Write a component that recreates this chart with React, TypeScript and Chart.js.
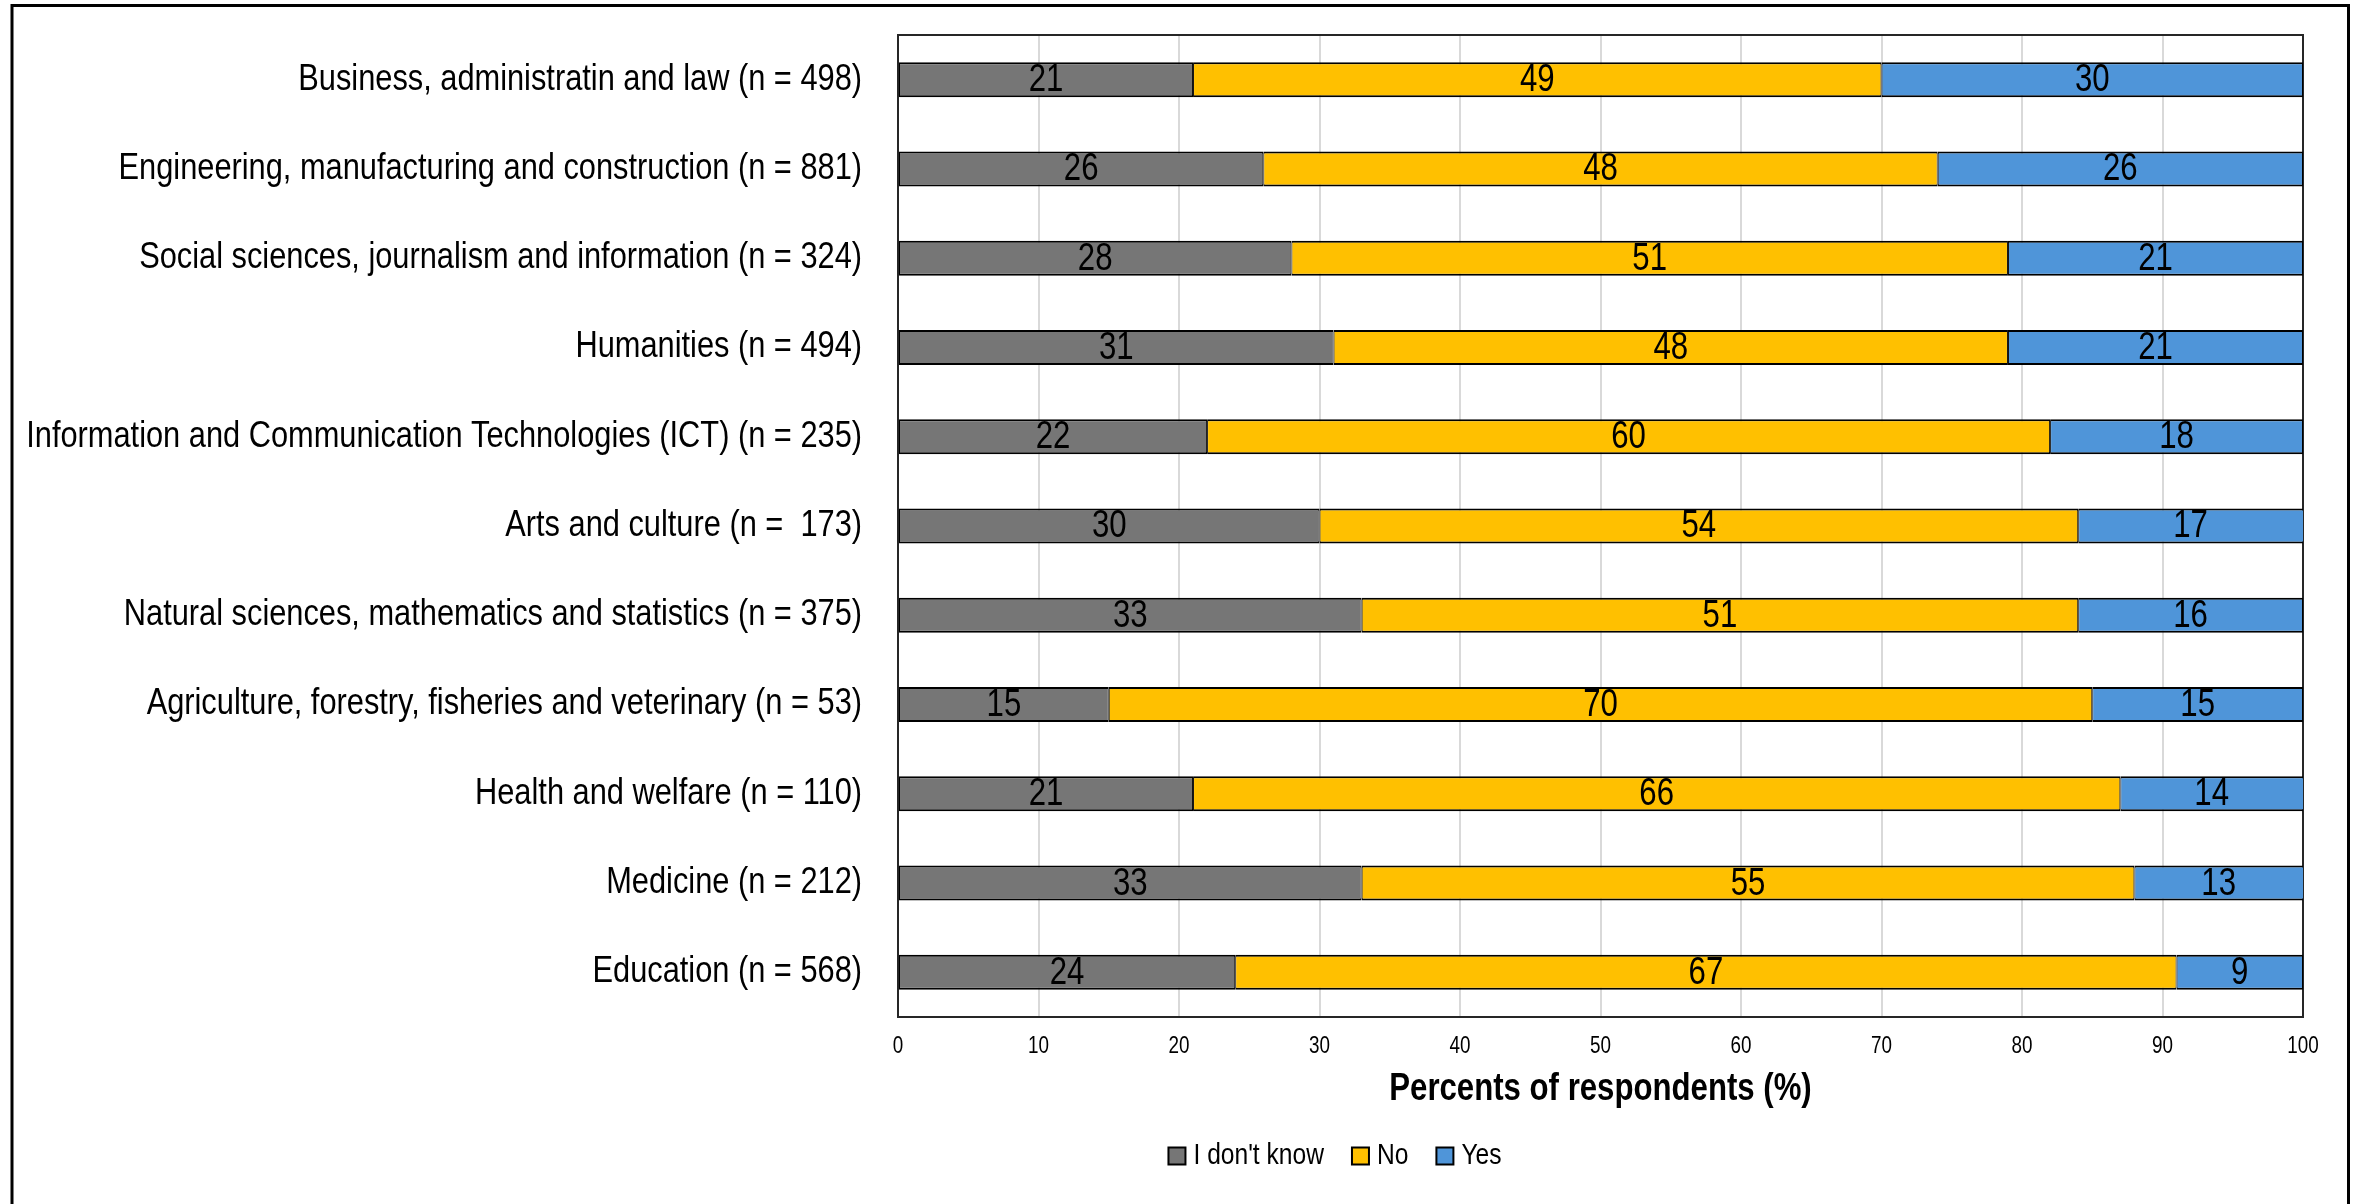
import React, { useEffect, useRef } from "react";
import { Chart, registerables } from "chart.js";

Chart.register(...registerables);

// Survey results by field of study
const categories = [
  "Business, administratin and law (n = 498)",
  "Engineering, manufacturing and construction (n = 881)",
  "Social sciences, journalism and information (n = 324)",
  "Humanities (n = 494)",
  "Information and Communication Technologies (ICT) (n = 235)",
  "Arts and culture (n =  173)",
  "Natural sciences, mathematics and statistics (n = 375)",
  "Agriculture, forestry, fisheries and veterinary (n = 53)",
  "Health and welfare (n = 110)",
  "Medicine (n = 212)",
  "Education (n = 568)",
];
const dontKnow = [21, 26, 28, 31, 22, 30, 33, 15, 21, 33, 24];
const no = [49, 48, 51, 48, 60, 54, 51, 70, 66, 55, 67];
const yes = [30, 26, 21, 21, 18, 17, 16, 15, 14, 13, 9];
const seriesNames = ["I don't know", "No", "Yes"];
const seriesValues = [dontKnow, no, yes];
const seriesColors = ["#767676", "#FFC000", "#4F95D9"];
const axisMin = 0;
const axisMax = 100;
const axisStep = 10;
const axisTitle = "Percents of respondents (%)";

const W = 2363;
const H = 1204;
const FONT = '"Liberation Sans", Arial, sans-serif';
// Horizontal squeeze that gives the narrow sans look
const NARROW = 0.82;

function narrowText(
  ctx: CanvasRenderingContext2D,
  text: string,
  x: number,
  y: number,
  font: string,
  align: CanvasTextAlign,
  squeeze: number = NARROW
) {
  ctx.font = font;
  ctx.textAlign = align;
  ctx.textBaseline = "middle";
  const w = ctx.measureText(text).width;
  ctx.fillText(text, x, y, w * squeeze);
}

// Dark frame around the plotting area, drawn under the bars
const framePlugin = {
  id: "plotFrame",
  beforeDatasetsDraw(chart: any) {
    const { ctx, chartArea: a } = chart;
    ctx.save();
    ctx.strokeStyle = "#262626";
    ctx.lineWidth = 2;
    ctx.strokeRect(a.left, a.top, a.right - a.left, a.bottom - a.top);
    ctx.restore();
  },
};

// Axis labels and axis title in a condensed face
const axisTextPlugin = {
  id: "axisText",
  afterDraw(chart: any) {
    const { ctx, chartArea: a } = chart;
    const xs = chart.scales.x;
    const ys = chart.scales.y;
    ctx.save();
    ctx.fillStyle = "#000";
    ys.ticks.forEach((_t: any, i: number) => {
      narrowText(ctx, String(chart.data.labels[i]), ys.right - 36, ys.getPixelForTick(i), `36px ${FONT}`, "right", 0.855);
    });
    xs.ticks.forEach((t: any, i: number) => {
      narrowText(ctx, String(t.value), xs.getPixelForTick(i), a.bottom + 30, `23px ${FONT}`, "center");
    });
    narrowText(ctx, axisTitle, (a.left + a.right) / 2, a.bottom + 73, `bold 38px ${FONT}`, "center");
    ctx.restore();
  },
};

// Value labels centred in each visible bar segment
const valueLabelPlugin = {
  id: "valueLabels",
  afterDatasetsDraw(chart: any) {
    const { ctx, chartArea: a } = chart;
    ctx.save();
    ctx.fillStyle = "#000";
    chart.data.datasets.forEach((ds: any, i: number) => {
      const meta = chart.getDatasetMeta(i);
      meta.data.forEach((bar: any, j: number) => {
        const { x, base, y } = bar.getProps(["x", "base", "y"], true);
        const l = Math.max(Math.min(x, base), a.left);
        const r = Math.min(Math.max(x, base), a.right);
        narrowText(ctx, String(ds.data[j]), (l + r) / 2, y + 1, `38px ${FONT}`, "center");
      });
    });
    ctx.restore();
  },
};

// Legend row below the axis title
const LEGEND_CX = 1335;
const LEGEND_CY = 1156;
const legendPlugin = {
  id: "bottomLegend",
  afterDraw(chart: any) {
    const { ctx } = chart;
    ctx.save();
    const font = `30px ${FONT}`;
    ctx.font = font;
    const box = 17;
    const gap = 8;
    const spacing = 28;
    const items = chart.data.datasets.map((ds: any) => ({
      label: ds.label,
      color: ds.backgroundColor,
      w: ctx.measureText(ds.label).width * NARROW,
    }));
    const total =
      items.reduce((s: number, it: any) => s + box + gap + it.w, 0) + spacing * (items.length - 1);
    let x = LEGEND_CX - total / 2;
    items.forEach((it: any) => {
      ctx.fillStyle = it.color;
      ctx.fillRect(x, LEGEND_CY - box / 2, box, box);
      ctx.strokeStyle = "#000";
      ctx.lineWidth = 2;
      ctx.strokeRect(x, LEGEND_CY - box / 2, box, box);
      ctx.fillStyle = "#000";
      narrowText(ctx, it.label, x + box + gap, LEGEND_CY, font, "left");
      x += box + gap + it.w + spacing;
    });
    ctx.restore();
  },
};

// Outer border of the figure
const outerBorderPlugin = {
  id: "outerBorder",
  afterDraw(chart: any) {
    const { ctx } = chart;
    ctx.save();
    ctx.strokeStyle = "#000";
    ctx.lineWidth = 3;
    ctx.strokeRect(12, 5.5, 2336.5, H + 100);
    ctx.restore();
  },
};

export default function App() {
  const canvasRef = useRef<HTMLCanvasElement | null>(null);

  useEffect(() => {
    document.body.style.margin = "0";
    const canvas = canvasRef.current;
    if (!canvas) return;
    const chart = new Chart(canvas, {
      type: "bar",
      data: {
        labels: categories,
        datasets: seriesNames.map((name, i) => ({
          label: name,
          data: seriesValues[i],
          backgroundColor: seriesColors[i],
          borderColor: "#000",
          borderWidth: { top: 2, bottom: 2, left: 1, right: 1 },
          borderSkipped: false,
          barPercentage: 0.392,
          categoryPercentage: 1,
        })),
      },
      options: {
        indexAxis: "y",
        responsive: false,
        animation: false,
        devicePixelRatio: 1,
        layout: { padding: { top: 35, right: 60, bottom: 0, left: 0 } },
        plugins: {
          legend: { display: false },
          tooltip: { enabled: false },
        },
        scales: {
          x: {
            stacked: true,
            min: axisMin,
            max: axisMax,
            ticks: { stepSize: axisStep, display: false },
            grid: { color: "#d9d9d9", lineWidth: 2, drawTicks: false },
            border: { display: false },
            title: { display: false, text: axisTitle },
            afterFit: (s: any) => {
              s.height = 187;
              s.paddingLeft = 0;
              s.paddingRight = 0;
            },
          },
          y: {
            stacked: true,
            ticks: { display: false, autoSkip: false },
            grid: { display: false, drawTicks: false },
            border: { display: false },
            afterFit: (s: any) => {
              s.width = 898;
              s.paddingTop = 0;
              s.paddingBottom = 0;
            },
          },
        },
      } as any,
      plugins: [framePlugin, valueLabelPlugin, axisTextPlugin, legendPlugin, outerBorderPlugin],
    });
    return () => chart.destroy();
  }, []);

  return (
    <div style={{ width: W, height: H, background: "#fff" }}>
      <canvas ref={canvasRef} width={W} height={H} style={{ display: "block", width: W, height: H }} />
    </div>
  );
}
